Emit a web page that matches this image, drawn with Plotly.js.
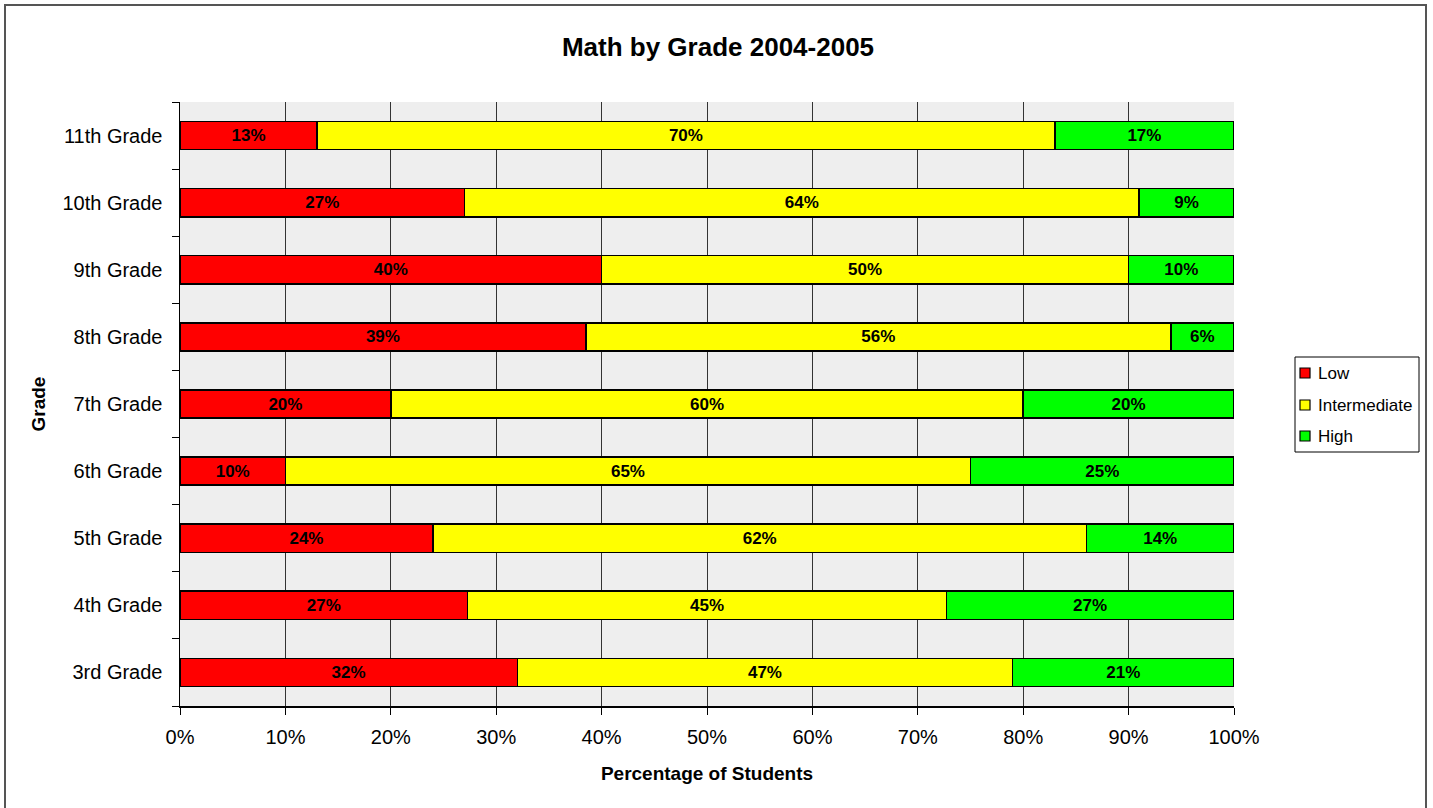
<!DOCTYPE html>
<html>
<head>
<meta charset="utf-8">
<script src="https://cdn.plot.ly/plotly-3.0.1.min.js"></script>
<style>
  html, body { margin: 0; padding: 0; background: #fff; }
  #chart { width: 1433px; height: 808px; }
</style>
</head>
<body>
<div id="chart"></div>
<script>
const grades = ["3rd Grade", "4th Grade", "5th Grade", "6th Grade", "7th Grade", "8th Grade", "9th Grade", "10th Grade", "11th Grade"];
const lowVals = [32, 27.3, 24, 10, 20, 38.5, 40, 27, 13];
const intermediateVals = [47, 45.4, 62, 65, 60, 55.5, 50, 64, 70];
const highVals = [21, 27.3, 14, 25, 20, 6, 10, 9, 17];
const seriesNames = ["Low", "Intermediate", "High"];
const seriesColors = ["#FF0000", "#FFFF00", "#00FF00"];

const FONT = "Liberation Sans, Arial, sans-serif";
const values = [lowVals, intermediateVals, highVals];

const traces = values.map((vals, i) => ({
  type: "bar",
  orientation: "h",
  name: seriesNames[i],
  y: grades,
  x: vals,
  text: vals.map(v => Math.round(v) + "%"),
  textposition: "inside",
  insidetextanchor: "middle",
  textangle: 0,
  constraintext: "none",
  textfont: { family: FONT, size: 17, color: "#000", weight: "bold" },
  marker: { color: seriesColors[i], line: { color: "#000", width: 1.5 } },
  hoverinfo: "x+name",
  showlegend: false
}));

const L = 180, R = 1234, T = 102, B = 706, W = 1433, H = 808;
const pw = R - L, ph = B - T;
const px = x => (x - L) / pw;
const py = y => (B - y) / ph;

// custom legend (box, swatches, labels) in paper coordinates
const legTop = 357, legBot = 452, legLeft = 1295, legRight = 1419;
const legRows = [373, 405, 436];
const shapes = [
  { type: "rect", xref: "paper", yref: "paper",
    x0: px(5), x1: px(1426), y0: py(812), y1: py(5),
    line: { color: "#555", width: 2 }, fillcolor: "rgba(0,0,0,0)", layer: "below" },
  { type: "rect", xref: "paper", yref: "paper",
    x0: px(legLeft), x1: px(legRight), y0: py(legBot), y1: py(legTop),
    line: { color: "#000", width: 1 }, fillcolor: "#fff", layer: "above" }
];
const annotations = [];
seriesNames.forEach((name, i) => {
  const cy = legRows[i];
  shapes.push({ type: "rect", xref: "paper", yref: "paper",
    x0: px(1300), x1: px(1310), y0: py(cy + 5), y1: py(cy - 5),
    line: { color: "#000", width: 1.2 }, fillcolor: seriesColors[i], layer: "above" });
  annotations.push({ xref: "paper", yref: "paper", x: px(1316), y: py(cy),
    xanchor: "left", yanchor: "middle", showarrow: false, text: name,
    font: { family: FONT, size: 17, color: "#000" } });
});

const layout = {
  width: W, height: H,
  margin: { l: L, r: W - R, t: T, b: H - B, autoexpand: false },
  paper_bgcolor: "#fff",
  plot_bgcolor: "#EEEEEE",
  barmode: "stack",
  bargap: 0.58,
  font: { family: FONT, color: "#000" },
  title: {
    text: "<b>Math by Grade 2004-2005</b>",
    font: { family: FONT, size: 26, color: "#000" },
    x: 718 / W, xref: "container", xanchor: "center",
    y: 1 - 47 / H, yref: "container", yanchor: "middle"
  },
  xaxis: {
    range: [0, 100],
    dtick: 10, tick0: 0,
    ticksuffix: "%",
    showgrid: true, gridcolor: "#333", gridwidth: 1,
    zeroline: false,
    showline: true, linecolor: "#000", linewidth: 1.5,
    ticks: "outside", ticklen: 7, tickcolor: "#000",
    ticklabelstandoff: 5,
    tickfont: { family: FONT, size: 20, color: "#000" },
    title: { text: "<b>Percentage of Students</b>", font: { family: FONT, size: 19, color: "#000" }, standoff: 20 },
    fixedrange: true
  },
  yaxis: {
    type: "category",
    categoryorder: "array", categoryarray: grades,
    showgrid: false, zeroline: false,
    showline: true, linecolor: "#000", linewidth: 1.5,
    ticks: "outside", ticklen: 7, tickcolor: "#000",
    tickson: "boundaries",
    ticklabelstandoff: 12,
    tickfont: { family: FONT, size: 20, color: "#000" },
    title: { text: "<b>Grade</b>", font: { family: FONT, size: 19, color: "#000" }, standoff: 12 },
    fixedrange: true
  },
  showlegend: false,
  shapes: shapes,
  annotations: annotations
};

Plotly.newPlot("chart", traces, layout, { displayModeBar: false, staticPlot: true });
</script>
</body>
</html>
